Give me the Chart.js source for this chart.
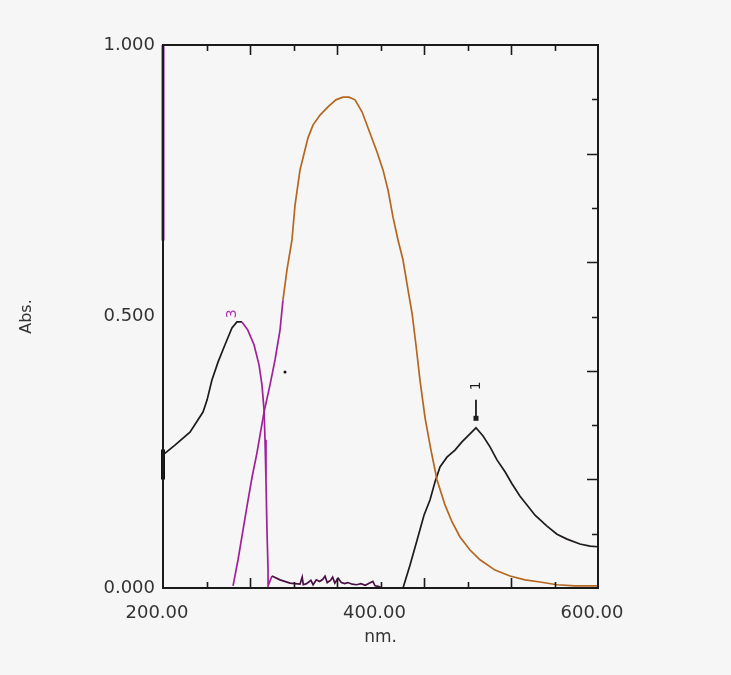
<!DOCTYPE html>
<html>
<head>
<meta charset="utf-8">
<script src="https://cdn.jsdelivr.net/npm/chart.js@4/dist/chart.umd.min.js"></script>
<style>
html,body{margin:0;padding:0;background:#f6f6f6;}
#wrap{width:731px;height:675px;}
</style>
</head>
<body>
<div id="wrap"><canvas id="c" width="731" height="675"></canvas></div>
<script>
// ---- data (wavelength in nm, absorbance) ----
const xTickLabels = [200, 400, 600];
const yTickLabels = [0, 0.5, 1.0];

const curve1Nm  = [420.7,427.1,433.6,440,445.5,450.1,454.7,461.1,468.5,474.9,482.3,487.8,494.3,500.7,507.1,514.5,520.9,528.3,534.7,542.1,553.1,562.3,571.5,583.4,592.6,600];
const curve1Abs = [0,0.042,0.088,0.134,0.162,0.195,0.223,0.241,0.254,0.269,0.284,0.295,0.280,0.260,0.236,0.214,0.192,0.169,0.153,0.134,0.114,0.099,0.090,0.081,0.077,0.076];

const curve2Nm  = [264.4,269,273.6,278.2,281.8,286.4,292.9,298.4,303,307.6,310.3,314,318.6,321.4,326,330.6,333.3,338,344.4,351.7,359,365.5,371,376.6,383,390.3,396.8,402.3,406.9,411.5,416.1,420.7,425.3,429,432.6,436.3,441,446.4,452,459.3,465.7,473.1,482.3,491.5,505.3,519.1,532.9,546.7,562.3,578.9,600];
const curve2Abs = [0.004,0.052,0.107,0.162,0.203,0.249,0.324,0.374,0.420,0.475,0.530,0.586,0.641,0.705,0.770,0.807,0.829,0.853,0.871,0.886,0.899,0.904,0.904,0.899,0.877,0.838,0.803,0.770,0.733,0.683,0.641,0.604,0.549,0.506,0.448,0.383,0.313,0.254,0.199,0.153,0.122,0.094,0.070,0.052,0.033,0.022,0.015,0.011,0.006,0.004,0.004];

const curve3Nm  = [200,211,224.8,236.8,240.5,245,250.6,257,263.4,268,272.6,278,283.7,288.3,291,292.9,293.8,294.7,295.6,296.6,296.6,300.2,307.6,316.8,326,328,329,332,336,338,341,344,347,349,351,354,356,358,361,364,367,370,374,378,382,386,390,393,395,398,401.4,441];
const curve3Abs = [0.245,0.263,0.287,0.324,0.346,0.383,0.416,0.448,0.479,0.490,0.490,0.475,0.448,0.411,0.374,0.328,0.273,0.199,0.107,0.033,0.004,0.022,0.015,0.009,0.007,0.020,0.006,0.008,0.014,0.006,0.015,0.012,0.016,0.022,0.010,0.014,0.020,0.009,0.018,0.010,0.008,0.010,0.007,0.006,0.008,0.005,0.009,0.012,0.004,0.003,0.0,0.0];

const edgeHighNm  = [200, 200];
const edgeHighAbs = [1.0, 0.64];
const edgeLowNm   = [200, 200];
const edgeLowAbs  = [0.255, 0.2];

const strayNm  = [312.2];
const strayAbs = [0.398];

const label1 = {text: '1', nm: 487.8, abs: 0.295};
const label3 = {text: '3', nm: 263.4, abs: 0.505};

// ---- helpers ----
const pts = (xs, ys) => xs.map((x, i) => ({x: x, y: ys[i]}));
const MAGENTA = '#a0209a', ORANGE = '#b5661f', BLACK = '#1e1a1e';
const FONT = "'DejaVu Sans', sans-serif";

const bgPlugin = {
  id: 'bg',
  beforeDraw(chart) {
    const ctx = chart.ctx;
    ctx.save();
    ctx.fillStyle = '#f6f6f6';
    ctx.fillRect(0, 0, chart.width, chart.height);
    ctx.restore();
  }
};

const framePlugin = {
  id: 'frame',
  afterDatasetsDraw(chart) {
    const {ctx, chartArea: a, scales: {x, y}} = chart;
    ctx.save();
    ctx.strokeStyle = '#1a1a1a';
    ctx.lineWidth = 2;
    ctx.strokeRect(a.left, a.top, a.right - a.left, a.bottom - a.top);
    ctx.lineWidth = 1.6;
    ctx.beginPath();
    for (let nm = 240; nm < 600; nm += 40) {
      const px = Math.round(x.getPixelForValue(nm)) + 0.5;
      const len = ((nm - 200) % 80 === 0) ? 10 : 6;
      ctx.moveTo(px, a.bottom); ctx.lineTo(px, a.bottom - len);
      ctx.moveTo(px, a.top); ctx.lineTo(px, a.top + len);
    }
    for (let k = 1; k < 10; k++) {
      const py = Math.round(y.getPixelForValue(k / 10)) + 0.5;
      const len = (k % 2 === 0) ? 11 : 6;
      ctx.moveTo(a.right, py); ctx.lineTo(a.right - len, py);
    }
    ctx.stroke();

    // peak marker for curve 1
    const px1 = x.getPixelForValue(label1.nm);
    const pk = y.getPixelForValue(label1.abs);
    ctx.strokeStyle = BLACK;
    ctx.lineWidth = 1.8;
    ctx.beginPath();
    ctx.moveTo(px1, pk - 8); ctx.lineTo(px1, pk - 28);
    ctx.stroke();
    ctx.fillStyle = BLACK;
    ctx.fillRect(px1 - 2.5, pk - 12, 5, 5);
    ctx.translate(px1, pk - 42);
    ctx.rotate(-Math.PI / 2);
    ctx.font = "14px " + FONT;
    ctx.textAlign = 'center';
    ctx.textBaseline = 'middle';
    ctx.fillText(label1.text, 0, 0);
    ctx.restore();

    ctx.save();
    ctx.translate(x.getPixelForValue(label3.nm), y.getPixelForValue(label3.abs));
    ctx.rotate(-Math.PI / 2);
    ctx.font = "14px " + FONT;
    ctx.fillStyle = '#b030b0';
    ctx.textAlign = 'center';
    ctx.textBaseline = 'middle';
    ctx.fillText(label3.text, 0, 0);
    ctx.restore();
  }
};

new Chart(document.getElementById('c'), {
  type: 'line',
  data: {
    datasets: [
      {
        label: '2', data: pts(curve2Nm, curve2Abs), borderWidth: 1.7,
        borderColor: ORANGE,
        segment: {borderColor: c => c.p0.parsed.x < 309 ? MAGENTA : ORANGE}
      },
      {
        label: '3', data: pts(curve3Nm, curve3Abs), borderWidth: 1.7,
        borderColor: BLACK,
        segment: {borderColor: c => {
          const v = c.p0.parsed.x;
          if (v < 270) return BLACK;
          if (v < 297) return MAGENTA;
          if (v < 401) return '#4a1045';
          return '#d070d0';
        }}
      },
      {label: '1', data: pts(curve1Nm, curve1Abs), borderWidth: 1.7, borderColor: BLACK},
      {label: 'edgeHigh', data: pts(edgeHighNm, edgeHighAbs), borderWidth: 3, borderColor: '#7a1a9a', clip: false},
      {label: 'edgeLow', data: pts(edgeLowNm, edgeLowAbs), borderWidth: 4, borderColor: '#111', clip: false},
      {label: 'stray', data: pts(strayNm, strayAbs), showLine: false, pointRadius: 1.5, pointBackgroundColor: '#111', pointBorderWidth: 0}
    ]
  },
  options: {
    responsive: false,
    animation: false,
    events: [],
    layout: {padding: {top: 45, right: 133, left: 0, bottom: 0}},
    elements: {point: {radius: 0}, line: {tension: 0, borderCapStyle: 'butt'}},
    plugins: {legend: {display: false}, tooltip: {enabled: false}},
    scales: {
      x: {
        type: 'linear', position: 'bottom', min: 200, max: 600,
        afterBuildTicks: s => { s.ticks = xTickLabels.map(v => ({value: v})); },
        afterFit: s => { s.height = 87; },
        grid: {display: false, drawTicks: false},
        border: {display: false},
        ticks: {
          callback: v => Number(v).toFixed(2),
          font: {family: FONT, size: 18}, color: '#333',
          padding: 15, labelOffset: -6, maxRotation: 0, autoSkip: false
        },
        title: {display: true, text: 'nm.', font: {family: FONT, size: 17}, color: '#333', padding: {top: 0, bottom: 27}}
      },
      y: {
        type: 'linear', position: 'left', min: 0, max: 1,
        afterBuildTicks: s => { s.ticks = yTickLabels.map(v => ({value: v})); },
        afterFit: s => { s.width = 163; },
        grid: {display: false, drawTicks: false},
        border: {display: false},
        ticks: {
          callback: v => Number(v).toFixed(3),
          font: {family: FONT, size: 18}, color: '#333', padding: 8
        },
        title: {display: true, text: 'Abs.', font: {family: FONT, size: 16}, color: '#333', padding: {top: 17, bottom: 0}}
      }
    }
  },
  plugins: [bgPlugin, framePlugin]
});
</script>
</body>
</html>
